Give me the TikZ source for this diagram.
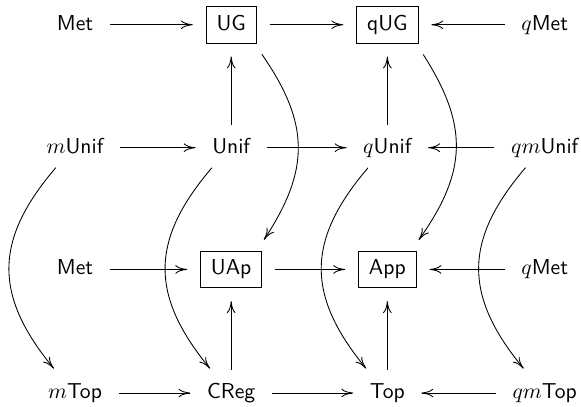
\documentclass[tikz,border=0pt]{standalone}
\usetikzlibrary{arrows.meta}
\begin{document}
\begin{tikzpicture}[font=\sffamily,
		obj/.style={anchor=base, inner xsep=1.5pt, inner ysep=0pt, text height=7pt, text depth=2pt},
		boxed/.style={obj, draw, inner xsep=4.8pt, inner ysep=4pt},
		arr/.style={-{Computer Modern Rightarrow[length=5.5pt,width=4pt]}, shorten <=6pt, shorten >=6pt}]
		\useasboundingbox (0,0) rectangle (9.45,-6.605);
		
		% Top row
		\node[obj] (met1) at (1.22,-0.49) {Met};
		\node[boxed] (ug) at (3.76,-0.49) {UG};
		\node[boxed] (qug) at (6.30,-0.49) {qUG};
		\node[obj] (qmet1) at (8.86,-0.49) {$q$Met};
		
		% Uniform row
		\node[obj] (munif) at (1.22,-2.49) {$m$Unif};
		\node[obj] (unif) at (3.76,-2.49) {Unif};
		\node[obj] (qunif) at (6.30,-2.49) {$q$Unif};
		\node[obj] (qmunif) at (8.86,-2.49) {$qm$Unif};
		
		% Approach row
		\node[obj] (met2) at (1.22,-4.47) {Met};
		\node[boxed] (uap) at (3.76,-4.47) {UAp};
		\node[boxed] (app) at (6.30,-4.47) {App};
		\node[obj] (qmet2) at (8.86,-4.47) {$q$Met};
		
		% Topology row
		\node[obj] (mtop) at (1.22,-6.48) {$m$Top};
		\node[obj] (creg) at (3.76,-6.48) {CReg};
		\node[obj] (top) at (6.30,-6.48) {Top};
		\node[obj] (qmtop) at (8.86,-6.48) {$qm$Top};
		
		% Horizontal arrows
		\draw[arr] (met1) -- (ug);
		\draw[arr] (ug) -- (qug);
		\draw[arr] (qmet1) -- (qug);
		\draw[arr] (munif) -- (unif);
		\draw[arr] (unif) -- (qunif);
		\draw[arr] (qmunif) -- (qunif);
		\draw[arr] (met2) -- (uap);
		\draw[arr] (uap) -- (app);
		\draw[arr] (qmet2) -- (app);
		\draw[arr] (mtop) -- (creg);
		\draw[arr] (creg) -- (top);
		\draw[arr] (qmtop) -- (top);
		
		% Vertical arrows
		\draw[arr] (unif) -- (ug);
		\draw[arr] (qunif) -- (qug);
		\draw[arr] (creg) -- (uap);
		\draw[arr] (top) -- (app);
		
		% Curved arrows
		\draw[arr] ([xshift=-1pt]ug.south east) to[bend left=34, looseness=1.2] ([xshift=-2.5pt]uap.north east);
		\draw[arr] ([xshift=-1pt]qug.south east) to[bend left=34, looseness=1.2] ([xshift=-2.5pt]app.north east);
		\draw[arr] ([xshift=-5pt]munif.south) to[bend right=40, looseness=1.25] ([xshift=-6pt,yshift=2pt]mtop.north);
		\draw[arr] ([xshift=-5pt]unif.south) to[bend right=40, looseness=1.25] ([xshift=-6pt,yshift=2pt]creg.north);
		\draw[arr] ([xshift=-5pt]qunif.south) to[bend right=40, looseness=1.25] ([xshift=-6pt,yshift=2pt]top.north);
		\draw[arr] ([xshift=-5pt]qmunif.south) to[bend right=40, looseness=1.25] ([xshift=-6pt,yshift=2pt]qmtop.north);
	\end{tikzpicture}
\end{document}
